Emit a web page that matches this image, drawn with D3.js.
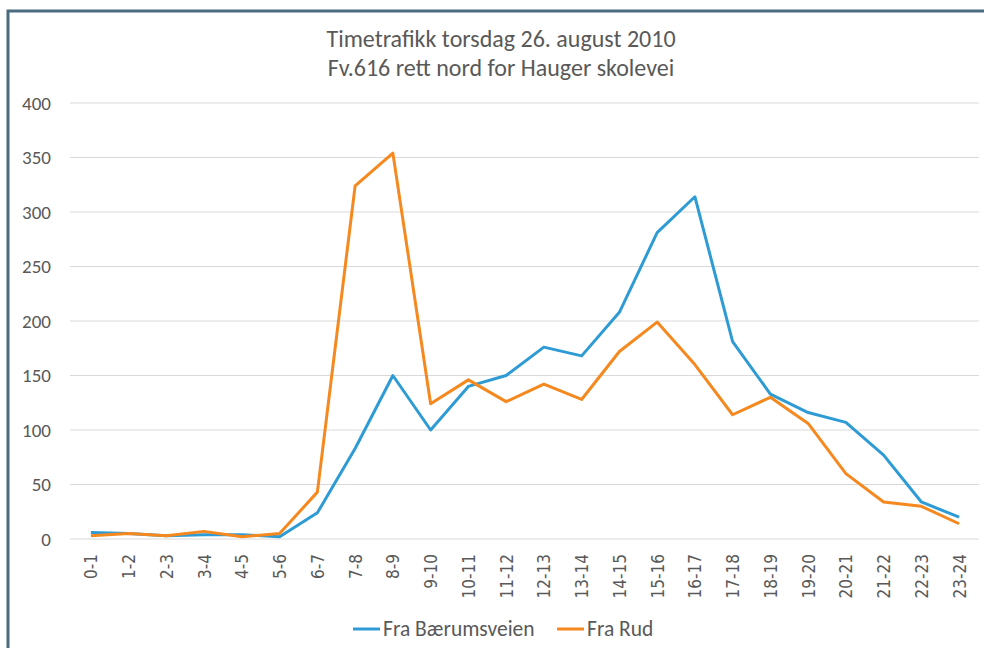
<!DOCTYPE html>
<html>
<head>
<meta charset="utf-8">
<script src="https://cdn.jsdelivr.net/npm/d3@7"></script>
<style>
  body { margin: 0; background: #fff; }
  svg { display: block; }
</style>
</head>
<body>
<div id="chart"></div>
<script>
var hours = ['0-1', '1-2', '2-3', '3-4', '4-5', '5-6', '6-7', '7-8', '8-9', '9-10', '10-11', '11-12',
  '12-13', '13-14', '14-15', '15-16', '16-17', '17-18', '18-19', '19-20', '20-21', '21-22', '22-23', '23-24'];

var fraBaerumsveien = [6, 5, 3, 4, 4, 2, 24, 83, 150, 100, 140, 150,
  176, 168, 208, 281, 314, 181, 133, 116, 107, 77, 34, 20];

var fraRud = [3, 5, 3, 7, 2, 5, 43, 324, 354, 124, 146, 126,
  142, 128, 172, 199, 160, 114, 130, 106, 60, 34, 30, 14];

var seriesNames = ['Fra Bærumsveien', 'Fra Rud'];
var yTicks = [0, 50, 100, 150, 200, 250, 300, 350, 400];

drawChart();

function drawChart() {
  var width = 984;
  var height = 648;
  var plotLeft = 72, plotRight = 978, plotTop = 103, plotBottom = 539;

  var colors = ['#2f9bd5', '#f5891f'];
  var textColor = '#595959';
  var font = 'Calibri, Carlito, Lato, "Open Sans", sans-serif';

  var svg = d3.select('#chart')
    .append('svg')
    .attr('width', width)
    .attr('height', height);

  // frame
  svg.append('path')
    .attr('d', 'M8,' + height + ' V11 H' + width)
    .attr('fill', 'none')
    .attr('stroke', '#4b6b7f')
    .attr('stroke-width', 3);

  // title
  var title = svg.append('text')
    .attr('text-anchor', 'middle')
    .attr('fill', textColor)
    .attr('font-family', font)
    .attr('font-size', 24);
  title.append('tspan').attr('x', 501).attr('y', 47).text('Timetrafikk torsdag 26. august 2010');
  title.append('tspan').attr('x', 501).attr('y', 76).text('Fv.616 rett nord for Hauger skolevei');

  var xScale = d3.scalePoint()
    .domain(hours)
    .range([plotLeft, plotRight])
    .padding(0.5);

  var yScale = d3.scaleLinear()
    .domain([0, 400])
    .range([plotBottom, plotTop]);

  // grid
  svg.append('g')
    .selectAll('line')
    .data(yTicks)
    .enter()
    .append('line')
    .attr('x1', plotLeft - 2)
    .attr('x2', plotRight + 1)
    .attr('y1', function(d) { return yScale(d); })
    .attr('y2', function(d) { return yScale(d); })
    .attr('stroke', '#d9d9d9')
    .attr('stroke-width', 1.2);

  // y axis labels
  var yAxis = d3.axisLeft(yScale)
    .tickValues(yTicks)
    .tickSize(0)
    .tickPadding(0);

  var yg = svg.append('g')
    .attr('transform', 'translate(51,0)')
    .call(yAxis);
  yg.select('.domain').remove();
  yg.selectAll('text')
    .attr('fill', textColor)
    .attr('font-family', font)
    .attr('font-size', 19);

  // x axis labels
  var xAxis = d3.axisBottom(xScale)
    .tickSize(0)
    .tickPadding(0);

  var xg = svg.append('g')
    .attr('transform', 'translate(0,' + (plotBottom + 15) + ')')
    .call(xAxis);
  xg.select('.domain').remove();
  xg.selectAll('text')
    .attr('fill', textColor)
    .attr('font-family', '"DejaVu Sans Condensed", "DejaVu Sans", sans-serif')
    .attr('font-size', 17)
    .attr('text-anchor', 'end')
    .attr('dy', '0.35em')
    .attr('x', 0)
    .attr('y', 0)
    .attr('transform', 'rotate(-90)');

  // lines
  var line = d3.line()
    .x(function(d, i) { return xScale(hours[i]); })
    .y(function(d) { return yScale(d); });

  [fraBaerumsveien, fraRud].forEach(function(values, i) {
    svg.append('path')
      .datum(values)
      .attr('fill', 'none')
      .attr('stroke', colors[i])
      .attr('stroke-width', 3)
      .attr('stroke-linejoin', 'round')
      .attr('d', line);
  });

  // legend
  var legendX = [353, 557];
  seriesNames.forEach(function(name, i) {
    var g = svg.append('g').attr('transform', 'translate(' + legendX[i] + ',629)');
    g.append('line')
      .attr('x1', 0).attr('x2', 27)
      .attr('y1', 0).attr('y2', 0)
      .attr('stroke', colors[i])
      .attr('stroke-width', 3);
    g.append('text')
      .attr('x', 30)
      .attr('y', 7)
      .attr('fill', textColor)
      .attr('font-family', font)
      .attr('font-size', 21.5)
      .text(name);
  });
}
</script>
</body>
</html>
